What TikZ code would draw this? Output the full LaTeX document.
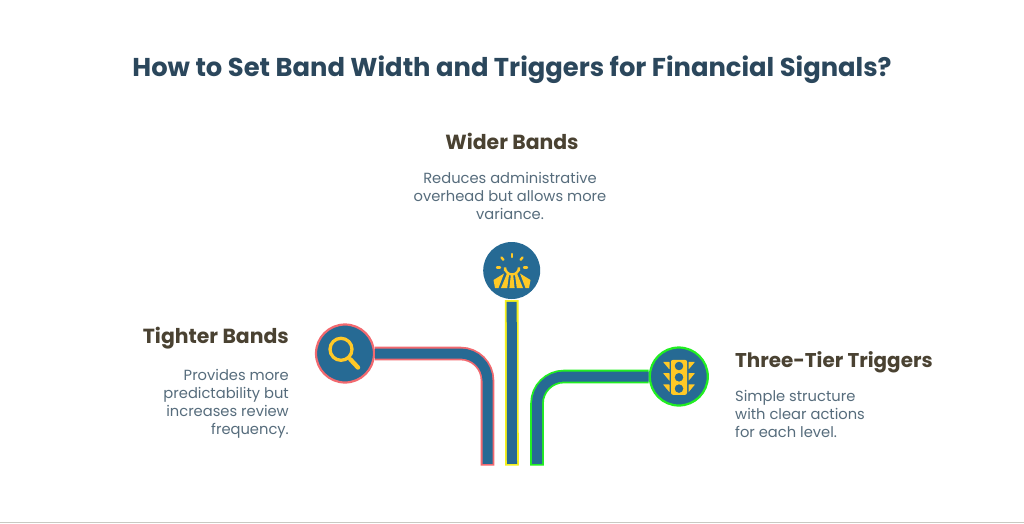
\documentclass[tikz,border=0pt]{standalone}
\usepackage{fontspec}
\setmainfont{Poppins}
\definecolor{bandblue}{HTML}{266A94}
\definecolor{gold}{HTML}{FFC926}
\definecolor{pinkb}{HTML}{F2696F}
\definecolor{yellowb}{HTML}{F5F01E}
\definecolor{greenb}{HTML}{22EE22}
\definecolor{titlec}{HTML}{2B475C}
\definecolor{headc}{HTML}{4A4232}
\definecolor{bodyc}{HTML}{566C7C}
\definecolor{rulec}{HTML}{C9C9C2}
\tikzset{
  badge/.style={circle,fill=bandblue,inner sep=0pt,minimum size=#1},
  outerband/.style={line width=13.6pt},
  innerband/.style={line width=10pt,draw=bandblue,shorten >=1.7pt},
  titletext/.style={font=\fontsize{25.8}{30}\selectfont\bfseries,text=titlec,inner sep=0pt},
  headtext/.style={font=\fontsize{20.4}{24}\selectfont\bfseries,text=headc,inner sep=0pt},
  bodytext/.style={font=\fontsize{14.7}{17.9}\selectfont,text=bodyc,inner sep=0pt},
}
\begin{document}
\begin{tikzpicture}[x=1pt,y=-1pt]
\useasboundingbox (0,0) rectangle (1024,523);
\fill[white] (0,0) rectangle (1024,523);
\fill[rulec] (0,522) rectangle (1024,523);

\node[titletext] (title) at (512,70) {How to Set Band Width and Triggers for Financial Signals?};
\node[headtext] (hwide) at (512,141.5) {Wider Bands};
\node[bodytext,align=center,anchor=north] (bwide) at (510,172.5) {Reduces administrative\\overhead but allows more\\variance.};
\node[headtext,anchor=east] (htight) at (289,338) {Tighter Bands};
\node[bodytext,align=right,anchor=north east] (btight) at (289,369.5) {Provides more\\predictability but\\increases review\\frequency.};
\node[headtext,anchor=west,font=\fontsize{19.9}{24}\selectfont\bfseries] (htier) at (735,362) {Three-Tier Triggers};
\node[bodytext,align=left,anchor=north west] (btier) at (735,390) {Simple structure\\with clear actions\\for each level.};

\coordinate (footA) at (487.5,465.5);
\coordinate (footB) at (512,465.5);
\coordinate (footC) at (537,465.5);
\node[badge=57pt] (wide) at (511.7,270.5) {};
\node[badge=58pt,draw=pinkb,line width=2.2pt] (tight) at (345,353.5) {};
\node[badge=58pt,draw=greenb,line width=2.2pt] (tier) at (678.8,376.5) {};

\draw[outerband,draw=pinkb,rounded corners=27pt] (tight.east) -| (footA);
\draw[innerband,rounded corners=27pt] (tight.east) -| (footA);
\draw[outerband,draw=greenb,rounded corners=27pt] (tier.west) -| (footC);
\draw[innerband,rounded corners=27pt] (tier.west) -| (footC);
\draw[outerband,draw=yellowb,shorten <=1pt] (wide.south) -- (footB);
\draw[innerband,shorten <=2.7pt] (wide.south) -- (footB);

% magnifier
\draw[gold,line width=3.3pt] (341,349.3) circle (11);
\draw[gold,line width=4.4pt,line cap=round] (350.3,359.3) -- (358,367.5);

% sunrise over fields
\begin{scope}[shift={(512,250)}]
\draw[gold,line width=2.4pt] (-7,21) -- (-7,17.5) arc[start angle=180,end angle=0,radius=7] -- (7,21);
\foreach \xa/\ya/\xb/\yb in {0/4/0/7, -10.5/7.5/-8.6/9.8, 10.5/7.5/8.6/9.8, -15/17.5/-12/17.5, 15/17.5/12/17.5}{
  \draw[gold,line width=2.4pt,line cap=round] (\xa,\ya) -- (\xb,\yb);
}
\foreach \s in {-1,1}{
  \fill[gold] (\s*8,23.5) -- (\s*18.5,30) -- (\s*17,38) -- (\s*13.5,38) -- cycle;
  \fill[gold] (\s*5,23.5) -- (\s*2.8,23.5) -- (\s*4.8,38) -- (\s*11,38) -- cycle;
}
\fill[gold] (-1,23.5) -- (1,23.5) -- (2.6,38) -- (-2.6,38) -- cycle;
\end{scope}

% traffic light
\begin{scope}[shift={(679,377.3)}]
\fill[gold,rounded corners=2pt,even odd rule] (-8,-17.5) rectangle (8,17.5)
  (0,-11.3) circle (4.4) (0,0) circle (4.4) (0,11.3) circle (4.4);
\foreach \y in {-11.3,0,11.3}{
  \fill[gold,rounded corners=0.5pt] (-16,\y-4.2) -- (-9.5,\y-4.2) -- (-9.5,\y+3.6) -- cycle;
  \fill[gold,rounded corners=0.5pt] (16,\y-4.2) -- (9.5,\y-4.2) -- (9.5,\y+3.6) -- cycle;
}
\end{scope}
\end{tikzpicture}
\end{document}
